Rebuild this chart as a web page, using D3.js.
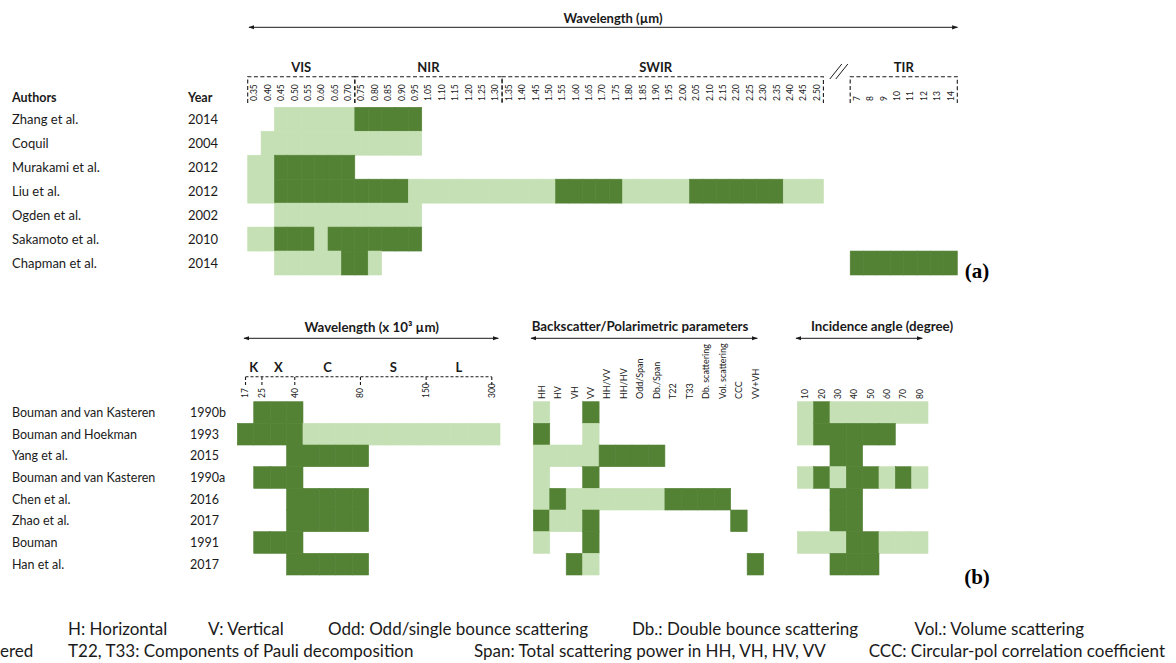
<!DOCTYPE html>
<html>
<head>
<meta charset="utf-8">
<script src="https://cdn.jsdelivr.net/npm/d3@7"></script>
<style>
	body { margin: 0; background: #fff; }
	svg { display: block; font-family: Lato, "Open Sans", sans-serif; }
</style>
</head>
<body>
<div id="wrapper"></div>
<script>
/* panel (a): optical / thermal studies
   levels: 0 = not used, 1 = used (light), 2 = most relevant (dark) */
const authorsA = ["Zhang et al.", "Coquil", "Murakami et al.", "Liu et al.", "Ogden et al.", "Sakamoto et al.", "Chapman et al."];
const yearsA = ["2014", "2004", "2012", "2012", "2002", "2010", "2014"];
const bandsA = ["0.35", "0.40", "0.45", "0.50", "0.55", "0.60", "0.65", "0.70", "0.75", "0.80", "0.85", "0.90", "0.95",
	"1.05", "1.10", "1.15", "1.20", "1.25", "1.30", "1.35", "1.40", "1.45", "1.50", "1.55", "1.60", "1.65", "1.70",
	"1.75", "1.80", "1.85", "1.90", "1.95", "2.00", "2.05", "2.10", "2.15", "2.20", "2.25", "2.30", "2.35", "2.40",
	"2.45", "2.50"];
const tirA = ["7", "8", "9", "10", "11", "12", "13", "14"];
const levelsA = [
	"0011111122222000000000000000000000000000000",
	"0111111111111000000000000000000000000000000",
	"1122222200000000000000000000000000000000000",
	"1122222222221111111111122222111112222222111",
	"0011111111111000000000000000000000000000000",
	"1122212222222000000000000000000000000000000",
	"0011111221000000000000000000000000000000000"
];
const levelsTirA = ["00000000", "00000000", "00000000", "00000000", "00000000", "00000000", "22222222"];
const groupsA = [
	{ name: "VIS", from: "0.35", to: "0.70" },
	{ name: "NIR", from: "0.75", to: "1.30" },
	{ name: "SWIR", from: "1.35", to: "2.50" },
	{ name: "TIR", from: "7", to: "14" }
];

/* panel (b): microwave studies */
const authorsB = ["Bouman and van Kasteren", "Bouman and Hoekman", "Yang et al.", "Bouman and van Kasteren",
	"Chen et al.", "Zhao et al.", "Bouman", "Han et al."];
const yearsB = ["1990b", "1993", "2015", "1990a", "2016", "2017", "1991", "2017"];
const radarTicks = ["17", "25", "40", "80", "150", "300"];
const radarTickCols = [0, 1, 3, 7, 11, 15];
const radarBands = ["K", "X", "C", "S", "L"];
const levelsRadar = [
	"0222000000000000",
	"2222111111111111",
	"0002222200000000",
	"0222000000000000",
	"0002222200000000",
	"0002222200000000",
	"0222000000000000",
	"0002222200000000"
];
const polParams = ["HH", "HV", "VH", "VV", "HH/VV", "HH/HV", "Odd/Span", "Db./Span", "T22", "T33",
	"Db. scattering", "Vol. scattering", "CCC", "VV+VH"];
const levelsPol = [
	"10020000000000",
	"20010000000000",
	"11112222000000",
	"10020000000000",
	"12111111222200",
	"21120000000020",
	"10020000000000",
	"00210000000002"
];
const angles = ["10", "20", "30", "40", "50", "60", "70", "80"];
const levelsAngle = [
	"12111111",
	"12222200",
	"00220000",
	"12122121",
	"00220000",
	"00220000",
	"11122111",
	"00222000"
];

function drawChart() {
/*step 1: canvas*/
	const width = 1176, height = 663;
	const light = "#c5e0b4", dark = "#548235", ink = "#1a1a1a";

	const svg = d3.select("#wrapper")
		.append("svg")
		.attr("width", width)
		.attr("height", height);

	svg.append("defs").append("marker")
		.attr("id", "arrow")
		.attr("viewBox", "0 0 10 10")
		.attr("refX", 9).attr("refY", 5)
		.attr("markerWidth", 6).attr("markerHeight", 6)
		.attr("orient", "auto-start-reverse")
		.append("path")
		.attr("d", "M0,1.5L10,5L0,8.5Z")
		.attr("fill", ink);

	const arrow = (x1, x2, y) => svg.append("line")
		.attr("x1", x1).attr("x2", x2).attr("y1", y).attr("y2", y)
		.attr("stroke", ink).attr("stroke-width", 1)
		.attr("marker-start", "url(#arrow)")
		.attr("marker-end", "url(#arrow)");

	const boldText = (x, y, txt, size, anchor) => svg.append("text")
		.attr("x", x).attr("y", y)
		.attr("text-anchor", anchor || "middle")
		.attr("font-weight", "bold")
		.attr("font-size", size)
		.attr("fill", ink)
		.text(txt);

	// cells from level strings
	const drawCells = (levels, xScale, cols, yScale) => {
		const data = [];
		levels.forEach((row, i) => row.split("").forEach((v, j) => {
			if (+v > 0) data.push({ i: i, col: cols[j], v: +v });
		}));
		svg.append("g").selectAll("rect")
			.data(data)
			.join("rect")
			.attr("x", d => xScale(d.col))
			.attr("y", d => yScale(d.i))
			.attr("width", xScale.bandwidth())
			.attr("height", yScale.bandwidth())
			.attr("fill", d => d.v == 2 ? dark : light)
			.attr("stroke", d => d.v == 2 ? dark : light)
			.attr("stroke-width", 0.6);
	};

	// rotated column labels, reading bottom to top
	const colLabels = (labels, xScale, y, size) => svg.append("g").selectAll("text")
		.data(labels)
		.join("text")
		.attr("transform", d => `translate(${xScale(d) + xScale.bandwidth() / 2},${y}) rotate(-90)`)
		.attr("dy", "0.35em")
		.attr("font-size", size)
		.attr("fill", ink)
		.text(d => d);

	const rowLabels = (names, years, yScale, xName, xYear, size) => {
		const g = svg.append("g").attr("font-size", size).attr("fill", ink);
		g.selectAll(".name").data(names).join("text")
			.attr("class", "name")
			.attr("x", xName)
			.attr("y", (d, i) => yScale(i) + yScale.bandwidth() / 2)
			.attr("dy", "0.35em")
			.text(d => d);
		g.selectAll(".year").data(years).join("text")
			.attr("class", "year")
			.attr("x", xYear)
			.attr("y", (d, i) => yScale(i) + yScale.bandwidth() / 2)
			.attr("dy", "0.35em")
			.text(d => d);
	};

/*step 2: panel (a)*/
	const xA = d3.scaleBand()
		.domain([...bandsA, "gap1", "gap2", ...tirA])
		.range([247.7, 957.3]);
	const yA = d3.scaleBand()
		.domain(d3.range(authorsA.length))
		.range([107.3, 275]);

	drawCells(levelsA, xA, bandsA, yA);
	drawCells(levelsTirA, xA, tirA, yA);
	colLabels(bandsA.concat(tirA), xA, 101, 8.5);
	rowLabels(authorsA, yearsA, yA, 12, 188, 13);
	boldText(12, 101.5, "Authors", 12.5, "start");
	boldText(188, 101.5, "Year", 12.5, "start");

	boldText(613, 22.5, "Wavelength (\u00b5m)", 13);
	arrow(249, 957.5, 27.3);

	groupsA.forEach(gr => {
		const x1 = xA(gr.from), x2 = xA(gr.to) + xA.bandwidth();
		svg.append("path")
			.attr("d", `M${x1},103V76.7H${x2}V103`)
			.attr("fill", "none")
			.attr("stroke", ink)
			.attr("stroke-width", 1.1)
			.attr("stroke-dasharray", "4,2.5");
		boldText((x1 + x2) / 2 - (gr.name == "SWIR" ? 7 : 0), 71.5, gr.name, 13);
	});
	// axis break between SWIR and TIR
	const gapX = xA("gap2") - 1;
	[0, 6].forEach(off => svg.append("line")
		.attr("x1", gapX - 6 + off).attr("y1", 79)
		.attr("x2", gapX + 6 + off).attr("y2", 64)
		.attr("stroke", ink).attr("stroke-width", 1));

	svg.append("text")
		.attr("x", 977).attr("y", 278)
		.attr("text-anchor", "middle")
		.attr("font-family", "'Liberation Serif', serif")
		.attr("font-weight", "bold")
		.attr("font-size", 21)
		.text("(a)");

/*step 3: panel (b)*/
	const yB = d3.scaleBand()
		.domain(d3.range(authorsB.length))
		.range([401.7, 575]);
	const xRadar = d3.scaleBand()
		.domain(d3.range(levelsRadar[0].length))
		.range([237.3, 500]);
	const xPol = d3.scaleBand()
		.domain(polParams)
		.range([533.3, 763.6]);
	const xAng = d3.scaleBand()
		.domain(angles)
		.range([797.3, 928]);

	drawCells(levelsRadar, xRadar, d3.range(levelsRadar[0].length), yB);
	drawCells(levelsPol, xPol, polParams, yB);
	drawCells(levelsAngle, xAng, angles, yB);
	rowLabels(authorsB, yearsB, yB, 12, 190, 12.5);

	// radar wavelength bracket
	const tickX = radarTickCols.map(c => xRadar(c) + xRadar.bandwidth() / 2);
	svg.append("path")
		.attr("d", tickX.map(x => `M${x},385V376.7`).join("") + `M${tickX[0]},376.7H${tickX[tickX.length - 1]}`)
		.attr("fill", "none")
		.attr("stroke", ink)
		.attr("stroke-width", 1.1)
		.attr("stroke-dasharray", "3,2");
	svg.append("g").selectAll("text")
		.data(radarTicks)
		.join("text")
		.attr("transform", (d, i) => `translate(${tickX[i]},398) rotate(-90)`)
		.attr("dy", "0.35em")
		.attr("font-size", 8.5)
		.attr("fill", ink)
		.text(d => d);
	radarBands.forEach((b, i) => boldText((tickX[i] + tickX[i + 1]) / 2, 371.5, b, 13));

	colLabels(polParams, xPol, 399, 9);
	colLabels(angles, xAng, 399, 8.5);

	boldText(371.7, 332, "Wavelength (x 10\u00b3 \u00b5m)", 13.3);
	arrow(244, 498.3, 338.3);
	boldText(640, 330.5, "Backscatter/Polarimetric parameters", 13.3);
	arrow(531, 757.3, 338.3);
	boldText(882, 330.5, "Incidence angle (degree)", 13.3);
	arrow(796, 922.3, 338.3);

	svg.append("text")
		.attr("x", 977).attr("y", 584)
		.attr("text-anchor", "middle")
		.attr("font-family", "'Liberation Serif', serif")
		.attr("font-weight", "bold")
		.attr("font-size", 21)
		.text("(b)");

/*step 4: footnote*/
	const foot = svg.append("g").attr("font-size", 17).attr("fill", ink);
	const note = (x, y, txt, anchor) => foot.append("text")
		.attr("x", x).attr("y", y)
		.attr("text-anchor", anchor || "start")
		.text(txt);
	note(68, 635, "H: Horizontal");
	note(208, 635, "V: Vertical");
	note(328, 635, "Odd: Odd/single bounce scattering");
	note(632, 635, "Db.: Double bounce scattering");
	note(1084, 635, "Vol.: Volume scattering", "end");
	note(0, 657, "ered");
	note(68, 657, "T22, T33: Components of Pauli decomposition");
	note(474, 657, "Span: Total scattering power in HH, VH, HV, VV");
	note(1165, 657, "CCC: Circular-pol correlation coefficient", "end");
}
drawChart();
</script>
</body>
</html>
